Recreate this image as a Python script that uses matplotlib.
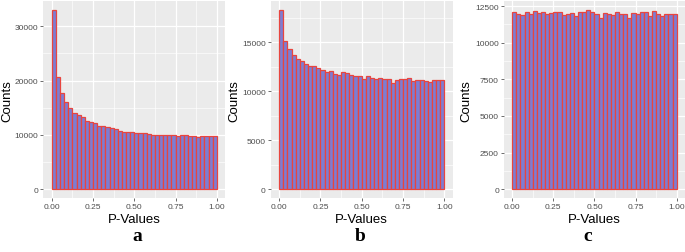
import matplotlib
matplotlib.use("Agg")
import matplotlib.pyplot as plt
import numpy as np

# histogram of p-values, 40 bins of width 0.025 on [0, 1]
bin_edges = np.linspace(0, 1, 41)

counts_a = [33000, 20600, 17700, 16100, 15000, 14100, 13700, 13200, 12600, 12400,
            12100, 11600, 11700, 11500, 11350, 11050, 10750, 10600, 10600, 10600,
            10400, 10300, 10400, 10250, 10050, 9900, 10050, 10050, 10000, 10050,
            9750, 9900, 9900, 9700, 9700, 9650, 9850, 9750, 9750, 9750]
counts_b = [18300, 15140, 14350, 13710, 13330, 13130, 12820, 12550, 12590, 12380,
            12140, 11970, 12040, 11730, 11700, 11940, 11870, 11630, 11530, 11560,
            11220, 11560, 11390, 11290, 11390, 11290, 11290, 10880, 11190, 11290,
            11220, 11360, 11050, 11190, 11190, 11050, 10990, 11160, 11160, 11160]
counts_c = [12090, 11980, 11910, 12110, 11930, 12160, 12050, 12070, 11950, 12000,
            12110, 12070, 11860, 11980, 12000, 11800, 12090, 12090, 12230, 12090,
            11930, 11700, 12000, 11980, 11890, 12110, 11980, 11930, 11660, 12050,
            11980, 12090, 12070, 11840, 12160, 11930, 11840, 11980, 11980, 11980]

yticks_a = [0, 10000, 20000, 30000]
yticks_b = [0, 5000, 10000, 15000]
yticks_c = [0, 2500, 5000, 7500, 10000, 12500]
xticks = [0.0, 0.25, 0.5, 0.75, 1.0]
panel_labels = ["a", "b", "c"]

fig = plt.figure(figsize=(6.85, 2.53), dpi=100)

# axes rectangles in figure fraction
positions = [[0.0635, 0.213, 0.265, 0.779],
             [0.3956, 0.213, 0.265, 0.779],
             [0.7358, 0.213, 0.264, 0.779]]
# where "Counts" (its right edge) and the panel letter sit, in axes fraction
ylabel_x = [-0.168, -0.171, -0.177]
letter_x = [0.515, 0.49, 0.464]

sans = ["Liberation Sans", "DejaVu Sans"]

def draw_panel(i, counts, yticks):
    ax = fig.add_axes(positions[i])
    ax.set_facecolor("#EBEBEB")
    width = bin_edges[1] - bin_edges[0]
    ax.bar(bin_edges[:-1], counts, width=width, align="edge",
           color="#7D7DD2", edgecolor="#E8453F", linewidth=0.9, zorder=3)
    ymax = max(counts)
    ax.set_xlim(-0.05, 1.05)
    ax.set_ylim(-0.05 * ymax, 1.05 * ymax)
    ax.set_xticks(xticks)
    ax.set_xticklabels(["%.2f" % t for t in xticks])
    ax.set_yticks(yticks)
    ax.set_yticklabels([str(t) for t in yticks])
    # minor grid halfway between majors
    ax.set_xticks([0.125, 0.375, 0.625, 0.875], minor=True)
    ystep = yticks[1] - yticks[0]
    ax.set_yticks([t + ystep / 2 for t in yticks if t + ystep / 2 < 1.05 * ymax], minor=True)
    ax.grid(which="major", color="white", linewidth=0.9, zorder=0)
    ax.grid(which="minor", color="white", linewidth=0.45, zorder=0)
    ax.set_axisbelow(True)
    for s in ax.spines.values():
        s.set_visible(False)
    ax.tick_params(which="major", length=2.2, width=0.5, color="#333333",
                   labelsize=6, labelcolor="#4D4D4D", pad=1.5)
    ax.tick_params(which="minor", length=0)
    for t in ax.get_xticklabels() + ax.get_yticklabels():
        t.set_family(sans)
    ax.set_xlabel("P-Values", fontsize=9.5, family=sans, labelpad=2)
    ax.set_ylabel("Counts", fontsize=9.5, family=sans)
    ax.yaxis.set_label_coords(ylabel_x[i], 0.5)
    ax.text(letter_x[i], -0.19, panel_labels[i], transform=ax.transAxes,
            ha="center", va="center", fontsize=14, fontweight="bold",
            family=["Liberation Serif", "DejaVu Serif"])
    return ax

draw_panel(0, counts_a, yticks_a)
draw_panel(1, counts_b, yticks_b)
draw_panel(2, counts_c, yticks_c)

fig.savefig("out.png", dpi=100)
